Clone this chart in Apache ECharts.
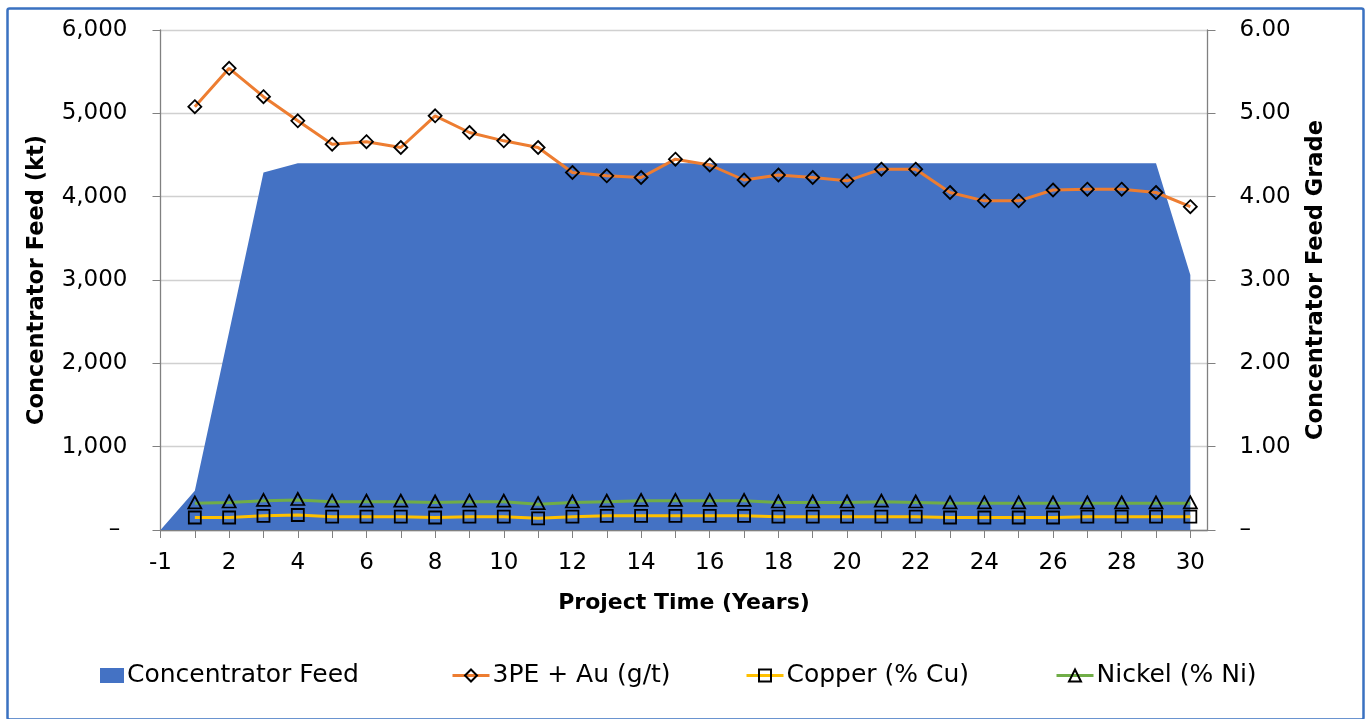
<!DOCTYPE html>
<html>
<head>
<meta charset="utf-8">
<script src="https://cdn.jsdelivr.net/npm/echarts@6/dist/echarts.min.js"></script>
<style>
html,body{margin:0;padding:0;background:#fff;}
#c{width:1366px;height:719px;}
</style>
</head>
<body>
<div id="c"></div>
<script>
// Project years (category order along the x axis)
const years = [-1, 1, 2, 3, 4, 5, 6, 7, 8, 9, 10, 11, 12, 13, 14, 15, 16, 17, 18, 19, 20, 21, 22, 23, 24, 25, 26, 27, 28, 29, 30];
// Concentrator feed (kt)
const feedKt = [0, 470, 2380, 4290, 4400, 4400, 4400, 4400, 4400, 4400, 4400, 4400, 4400, 4400, 4400, 4400, 4400, 4400, 4400, 4400, 4400, 4400, 4400, 4400, 4400, 4400, 4400, 4400, 4400, 4400, 3060];
// 3PE + Au (g/t)
const pgmAu = [null, 5.08, 5.54, 5.20, 4.91, 4.63, 4.66, 4.59, 4.97, 4.77, 4.67, 4.59, 4.29, 4.25, 4.23, 4.45, 4.38, 4.20, 4.26, 4.23, 4.19, 4.33, 4.33, 4.05, 3.95, 3.95, 4.08, 4.09, 4.09, 4.05, 3.88];
// Copper (% Cu)
const copper = [null, 0.15, 0.15, 0.17, 0.18, 0.16, 0.16, 0.16, 0.15, 0.16, 0.16, 0.14, 0.16, 0.17, 0.17, 0.17, 0.17, 0.17, 0.16, 0.16, 0.16, 0.16, 0.16, 0.15, 0.15, 0.15, 0.15, 0.16, 0.16, 0.16, 0.16];
// Nickel (% Ni)
const nickel = [null, 0.32, 0.33, 0.35, 0.36, 0.34, 0.34, 0.34, 0.33, 0.34, 0.34, 0.31, 0.33, 0.34, 0.35, 0.35, 0.35, 0.35, 0.33, 0.33, 0.33, 0.34, 0.33, 0.32, 0.32, 0.32, 0.32, 0.32, 0.32, 0.32, 0.32];
// Tick labels
const leftTicks = [0, 1000, 2000, 3000, 4000, 5000, 6000];
const rightTicks = [0, 1, 2, 3, 4, 5, 6];
const xLabelYears = [-1, 2, 4, 6, 8, 10, 12, 14, 16, 18, 20, 22, 24, 26, 28, 30];

const FONT = 'DejaVu Sans';
const pos = years.map((y, i) => i);
const pair = arr => arr.map((v, i) => [i, v]);

const chart = echarts.init(document.getElementById('c'), null, {renderer: 'canvas'});

const legendBase = {
  orient: 'horizontal', top: 663, padding: 0, itemGap: 0,
  textStyle: {fontFamily: FONT, fontSize: 25, color: '#000', padding: [0, 0, 0, -2]},
  lineStyle: {width: 3},
  selectedMode: false
};

chart.setOption({
  animation: false,
  backgroundColor: '#fff',
  textStyle: {fontFamily: FONT},
  grid: {left: 160.5, right: 158.5, top: 30, bottom: 189, containLabel: false},
  graphic: [{
    type: 'rect', left: 5, top: 6, z: 100,
    shape: {x: 0, y: 0, width: 1356, height: 711, r: 2},
    style: {fill: 'none', stroke: '#3A71C1', lineWidth: 2.5}
  }],
  legend: [
    Object.assign({}, legendBase, {left: 100, itemWidth: 24, itemHeight: 15, data: [{name: 'Concentrator Feed', icon: 'rect'}]}),
    Object.assign({}, legendBase, {left: 451, itemWidth: 37, itemHeight: 15, data: ['3PE + Au (g/t)']}),
    Object.assign({}, legendBase, {left: 745, itemWidth: 37, itemHeight: 15, data: ['Copper (% Cu)']}),
    Object.assign({}, legendBase, {left: 1055, itemWidth: 37, itemHeight: 15, data: ['Nickel (% Ni)']})
  ],
  xAxis: {
    type: 'value', min: 0, max: 30.5,
    name: 'Project Time (Years)', nameLocation: 'middle', nameGap: 62,
    nameTextStyle: {fontFamily: FONT, fontSize: 22, fontWeight: 'bold', color: '#000'},
    axisLine: {show: true, lineStyle: {color: '#808080', width: 1.3}},
    axisTick: {show: true, length: 8, lineStyle: {color: '#808080', width: 1}, customValues: pos},
    axisLabel: {
      fontFamily: FONT, fontSize: 23, color: '#000', margin: 22,
      customValues: xLabelYears.map(y => years.indexOf(y)),
      formatter: v => String(years[Math.round(v)])
    },
    splitLine: {show: false}
  },
  yAxis: [{
    type: 'value', min: 0, max: 6000, interval: 1000, position: 'left',
    name: 'Concentrator Feed (kt)', nameLocation: 'middle', nameGap: 112,
    nameTextStyle: {fontFamily: FONT, fontSize: 22.5, fontWeight: 'bold', color: '#000'},
    axisLine: {show: true, lineStyle: {color: '#808080', width: 1.3}},
    axisTick: {show: true, length: 8, lineStyle: {color: '#808080', width: 1}},
    axisLabel: {
      fontFamily: FONT, fontSize: 23, color: '#000', margin: 33,
      formatter: v => v === 0 ? '\u2013 ' : leftTicks[leftTicks.indexOf(v)].toLocaleString('en-US')
    },
    splitLine: {show: true, lineStyle: {color: '#d0d0d0', width: 1.3}}
  }, {
    type: 'value', min: 0, max: 6, interval: 1, position: 'right',
    name: 'Concentrator Feed Grade', nameLocation: 'middle', nameGap: 97, nameRotate: 90,
    nameTextStyle: {fontFamily: FONT, fontSize: 22.5, fontWeight: 'bold', color: '#000'},
    axisLine: {show: true, lineStyle: {color: '#808080', width: 1.3}},
    axisTick: {show: true, length: 8, lineStyle: {color: '#808080', width: 1}},
    axisLabel: {
      fontFamily: FONT, fontSize: 23, color: '#000', margin: 32,
      formatter: v => v === 0 ? '\u2013' : rightTicks[rightTicks.indexOf(v)].toFixed(2)
    },
    splitLine: {show: false}
  }],
  series: [{
    name: 'Concentrator Feed', type: 'line', yAxisIndex: 0,
    data: pair(feedKt), showSymbol: false, symbol: 'none',
    lineStyle: {width: 0, color: '#4472C4'},
    itemStyle: {color: '#4472C4'},
    areaStyle: {color: '#4472C4', opacity: 1}
  }, {
    name: '3PE + Au (g/t)', type: 'line', yAxisIndex: 1,
    data: pair(pgmAu), symbol: 'diamond', symbolSize: 13,
    lineStyle: {color: '#ED7D31', width: 3},
    itemStyle: {color: 'rgba(255,255,255,0)', borderColor: '#000', borderWidth: 1.8}
  }, {
    name: 'Copper (% Cu)', type: 'line', yAxisIndex: 1,
    data: pair(copper), symbol: 'rect', symbolSize: 12,
    lineStyle: {color: '#FFC000', width: 3},
    itemStyle: {color: 'rgba(255,255,255,0)', borderColor: '#000', borderWidth: 1.8}
  }, {
    name: 'Nickel (% Ni)', type: 'line', yAxisIndex: 1,
    data: pair(nickel), symbol: 'triangle', symbolSize: [13, 12], symbolOffset: [0, -1],
    lineStyle: {color: '#70AD47', width: 3},
    itemStyle: {color: 'rgba(255,255,255,0)', borderColor: '#000', borderWidth: 1.8}
  }]
});
</script>
</body>
</html>
